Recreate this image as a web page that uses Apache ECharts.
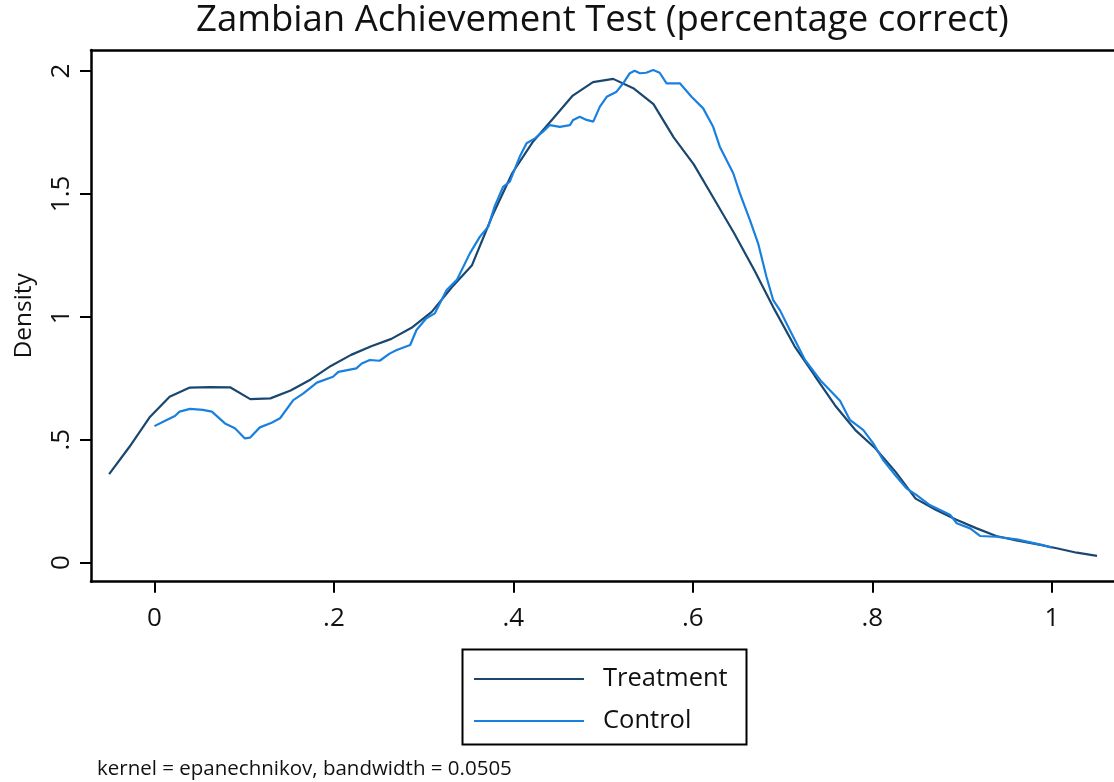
<!DOCTYPE html>
<html>
<head>
<meta charset="utf-8">
<script src="https://cdn.jsdelivr.net/npm/echarts@6/dist/echarts.min.js"></script>
<style>
html,body{margin:0;padding:0;background:#fff;}
#chart{width:1114px;height:782px;}
</style>
</head>
<body>
<div id="chart"></div>
<script>
// Treatment: kernel density evaluated on a 50-point grid
var treatX = [-0.0505,-0.0280,-0.0056,0.0169,0.0394,0.0618,0.0843,0.1068,0.1292,0.1517,
  0.1742,0.1966,0.2191,0.2416,0.2640,0.2865,0.3090,0.3314,0.3539,0.3764,
  0.3988,0.4213,0.4438,0.4662,0.4887,0.5112,0.5336,0.5561,0.5786,0.6010,
  0.6235,0.6460,0.6684,0.6909,0.7134,0.7358,0.7583,0.7808,0.8032,0.8257,
  0.8482,0.8706,0.8931,0.9156,0.9380,0.9605,0.9830,1.0054,1.0279,1.0504];
var treatY = [0.36,0.47,0.59,0.675,0.712,0.714,0.713,0.665,0.668,0.70,
  0.745,0.80,0.845,0.88,0.91,0.955,1.02,1.12,1.21,1.41,
  1.585,1.71,1.805,1.90,1.955,1.968,1.93,1.865,1.73,1.62,
  1.48,1.34,1.19,1.03,0.88,0.76,0.64,0.54,0.465,0.37,
  0.26,0.215,0.175,0.14,0.108,0.09,0.075,0.058,0.04,0.027];

// Control
var ctrlX = [0.000,0.0136,0.0228,0.028,0.0396,0.054,0.064,0.0786,0.0897,0.1008,
  0.1064,0.1175,0.1306,0.140,0.1547,0.166,0.181,0.199,0.205,0.225,
  0.231,0.240,0.251,0.262,0.270,0.285,0.292,0.303,0.3125,0.3256,
  0.337,0.3515,0.3627,0.372,0.379,0.3886,0.396,0.407,0.4147,0.424,
  0.433,0.4407,0.4518,0.463,0.4666,0.474,0.4816,0.489,0.4964,0.504,
  0.515,0.5223,0.5298,0.535,0.541,0.548,0.5558,0.563,0.5707,0.5855,
  0.5985,0.6115,0.6226,0.630,0.645,0.6524,0.6635,0.6727,0.682,0.6895,
  0.697,0.708,0.725,0.742,0.764,0.775,0.790,0.801,0.812,0.827,
  0.838,0.849,0.864,0.887,0.894,0.909,0.920,0.938,0.961,0.990,1.000];
var ctrlY = [0.555,0.580,0.596,0.614,0.625,0.621,0.614,0.566,0.546,0.505,
  0.508,0.550,0.569,0.587,0.661,0.688,0.732,0.756,0.776,0.790,
  0.810,0.824,0.821,0.850,0.865,0.885,0.946,0.994,1.014,1.109,
  1.150,1.258,1.326,1.367,1.448,1.529,1.550,1.651,1.706,1.726,
  1.753,1.780,1.773,1.780,1.801,1.814,1.801,1.794,1.855,1.895,
  1.916,1.950,1.991,2.001,1.991,1.993,2.004,1.993,1.950,1.950,
  1.895,1.848,1.773,1.692,1.584,1.502,1.394,1.299,1.163,1.068,
  1.027,0.946,0.824,0.742,0.658,0.580,0.539,0.485,0.417,0.349,
  0.302,0.275,0.234,0.193,0.160,0.139,0.108,0.105,0.094,0.071,0.060];

var xTicks = [0, 0.2, 0.4, 0.6, 0.8, 1];
var xTickLabels = ['0', '.2', '.4', '.6', '.8', '1'];
var yTicks = [0, 0.5, 1, 1.5, 2];
var yTickLabels = ['0', '.5', '1', '1.5', '2'];

var seriesNames = ['Treatment', 'Control'];
var titleText = 'Zambian Achievement Test (percentage correct)';
var noteText = 'kernel = epanechnikov, bandwidth = 0.0505';
var yName = 'Density';

function zip(xs, ys) { return xs.map(function (x, i) { return [x, ys[i]]; }); }
function fmt(ticks, labels) { return function (v) { var i = ticks.findIndex(function (t) { return Math.abs(t - v) < 1e-9; }); return i >= 0 ? labels[i] : ''; }; }

var FONT = 'Open Sans';
var chart = echarts.init(document.getElementById('chart'), null, { renderer: 'canvas' });
chart.setOption({
  backgroundColor: '#ffffff',
  animation: false,
  title: [
    { text: titleText, left: 191, top: -3, textStyle: { fontFamily: FONT, fontSize: 36.5, fontWeight: 'normal', color: '#111' } },
    { text: noteText, left: 92, top: 754, textStyle: { fontFamily: FONT, fontSize: 20.5, fontWeight: 'normal', color: '#111' } }
  ],
  grid: { left: 91, top: 50, width: 1023, height: 531.7, containLabel: false },
  xAxis: [{
    type: 'value', min: -0.0707, max: 1.0693,
    axisLine: { show: true, onZero: false, lineStyle: { color: '#000', width: 2.5 } },
    axisTick: { show: true, customValues: xTicks, length: 11, lineStyle: { color: '#000', width: 2 } },
    axisLabel: { show: true, customValues: xTicks, formatter: fmt(xTicks, xTickLabels), margin: 24, fontFamily: FONT, fontSize: 26, color: '#111' },
    splitLine: { show: false }
  }, {
    type: 'value', position: 'top', min: -0.0707, max: 1.0693,
    axisLine: { show: true, onZero: false, lineStyle: { color: '#000', width: 2.5 } },
    axisTick: { show: false }, axisLabel: { show: false }, splitLine: { show: false }
  }],
  yAxis: {
    type: 'value', min: -0.078, max: 2.0855,
    name: yName, nameLocation: 'middle', nameGap: 54, nameRotate: 90,
    nameTextStyle: { fontFamily: FONT, fontSize: 24.5, color: '#111' },
    axisLine: { show: true, onZero: false, lineStyle: { color: '#000', width: 2.5 } },
    axisTick: { show: true, customValues: yTicks, length: 11, lineStyle: { color: '#000', width: 2 } },
    axisLabel: { show: true, customValues: yTicks, formatter: fmt(yTicks, yTickLabels), rotate: 90, margin: 16, fontFamily: FONT, fontSize: 26, color: '#111' },
    splitLine: { show: false }
  },
  legend: {
    orient: 'vertical', left: 473, top: 666, padding: 0,
    data: seriesNames,
    itemWidth: 110, itemHeight: 24, itemGap: 16,
    itemStyle: { opacity: 0, borderWidth: 0 },
    textStyle: { fontFamily: FONT, fontSize: 25.5, color: '#111', padding: [0, 0, 0, 14] }
  },
  graphic: [{
    type: 'rect', left: 460, top: 647, shape: { width: 284, height: 95 },
    style: { fill: 'none', stroke: '#000', lineWidth: 2 }, silent: true
  }],
  series: [
    { name: seriesNames[0], type: 'line', data: zip(treatX, treatY), symbol: 'none', showSymbol: false,
      lineStyle: { color: '#1a476f', width: 2.2 }, itemStyle: { color: '#1a476f' } },
    { name: seriesNames[1], type: 'line', data: zip(ctrlX, ctrlY), symbol: 'none', showSymbol: false,
      lineStyle: { color: '#1a80e0', width: 2.2 }, itemStyle: { color: '#1a80e0' } }
  ]
});
</script>
</body>
</html>
